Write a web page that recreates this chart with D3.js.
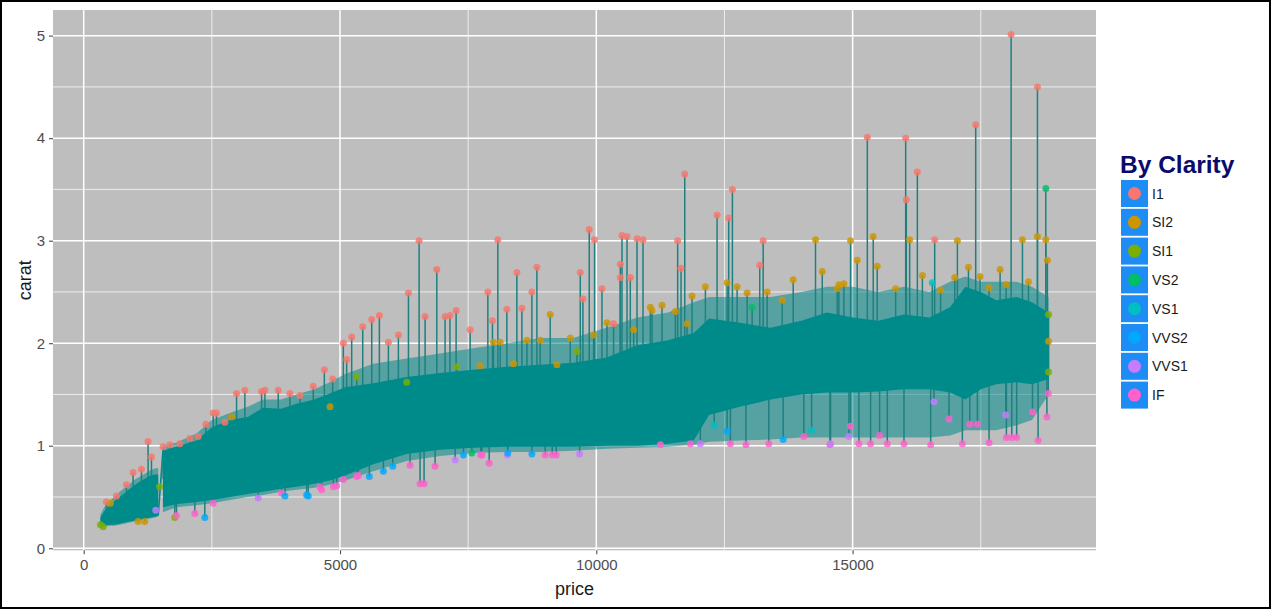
<!DOCTYPE html>
<html><head><meta charset="utf-8">
<script src="https://cdn.jsdelivr.net/npm/d3@7"></script>
<style>
html,body{margin:0;padding:0;background:#fff;}
svg{display:block;font-family:"Liberation Sans",Arial,sans-serif;}
</style></head>
<body>
<svg id="chart" width="1271" height="609"></svg>
<script>
// ---------- data ----------
const clarityLevels = ["I1","SI2","SI1","VS2","VS1","VVS2","VVS1","IF"];
const clarityColors = ["#F8766D","#CD9600","#7CAE00","#00BE67","#00BFC4","#00A9FF","#C77CFF","#FF61CC"];

const xTicks = [0, 5000, 10000, 15000];
const yTicks = [0, 1, 2, 3, 4, 5];

// dense core of the price-ordered line (cluster below the 1454-1546 price gap)
const band1Price = [326, 400, 500, 600, 700, 800, 900, 1000, 1100, 1200, 1300, 1400, 1454];
const band1Hi    = [0.30,0.36,0.42,0.46,0.50,0.54,0.58,0.62,0.65,0.68,0.71,0.72,0.72];
const band1Lo    = [0.21,0.22,0.23,0.23,0.24,0.25,0.26,0.27,0.28,0.29,0.30,0.31,0.32];
const band1SparseHi = [0.33,0.40,0.46,0.50,0.55,0.59,0.63,0.67,0.70,0.73,0.76,0.78,0.78];
const band1SparseLo = [0.20,0.21,0.22,0.22,0.23,0.24,0.25,0.26,0.27,0.28,0.29,0.30,0.31];

// cluster above the price gap
const band2Price = [1546,1800,2200,2500,2850,3200,3500,3850,4150,4500,4800,5100,5650,6300,6950,7600,8250,8900,9550,10200,10800,11400,11900,12200,12800,13400,14000,14500,15000,15500,16000,16500,16900,17200,17500,17800,18200,18500,18823];
const band2Hi    = [0.95,0.99,1.05,1.18,1.25,1.28,1.37,1.36,1.41,1.45,1.51,1.57,1.61,1.67,1.71,1.74,1.77,1.79,1.81,1.86,1.98,2.03,2.10,2.24,2.20,2.15,2.22,2.30,2.25,2.22,2.28,2.25,2.35,2.55,2.50,2.42,2.45,2.40,2.30];
const band2Lo    = [0.40,0.43,0.45,0.47,0.50,0.53,0.55,0.58,0.60,0.63,0.66,0.71,0.82,0.92,0.96,0.98,0.99,0.99,0.99,1.00,1.00,1.02,1.05,1.30,1.38,1.45,1.50,1.52,1.52,1.53,1.55,1.55,1.52,1.45,1.55,1.60,1.62,1.60,1.65];
const band2SparseHi = [1.00,1.03,1.12,1.25,1.32,1.38,1.45,1.45,1.50,1.55,1.62,1.70,1.80,1.85,1.90,1.95,2.00,2.05,2.05,2.15,2.25,2.30,2.40,2.45,2.45,2.45,2.50,2.55,2.55,2.50,2.55,2.50,2.60,2.65,2.60,2.60,2.60,2.55,2.45];
const band2SparseLo = [0.35,0.40,0.42,0.44,0.47,0.50,0.52,0.55,0.57,0.59,0.62,0.66,0.75,0.85,0.90,0.93,0.94,0.94,0.95,0.97,0.98,0.99,1.01,1.04,1.05,1.06,1.08,1.08,1.08,1.08,1.08,1.08,1.10,1.15,1.15,1.15,1.20,1.25,1.50];

// individual diamonds sticking out of the band, per clarity
const i1Price = [443,638,834,963,1127,1256,1322,1549,1680,1875,2070,2232,2383,2525,2590,2754,2982,3144,3470,3535,3795,4023,4219,4479,4694,4857,5065,5130,5228,5443,5619,5768,5944,6139,6335,6543,6660,6888,7050,7145,7265,7539,7884,7974,8079,8255,8450,8548,8743,8841,9687,9739,9862,9966,10110,10337,10468,10468,10501,10599,10663,10794,10911,11587,11653,11725,12356,12583,12655,13188,13255,15287,16035,16048,16263,16601,17401,18092,18606];
const i1Carat = [0.45,0.51,0.62,0.74,0.77,1.04,0.89,0.99,1.01,1.02,1.07,1.09,1.21,1.32,1.32,1.23,1.51,1.54,1.53,1.54,1.54,1.51,1.49,1.58,1.74,1.65,2.00,1.84,2.06,2.16,2.23,2.27,2.01,2.08,2.49,3.00,2.26,2.72,2.26,2.27,2.32,2.13,2.50,2.22,3.01,2.33,2.69,2.34,2.50,2.74,2.69,2.43,3.11,3.01,2.53,2.19,2.77,2.64,3.05,3.04,2.64,3.02,3.01,3.00,2.73,3.65,3.25,3.22,3.50,2.76,3.00,4.01,4.00,3.40,3.67,3.01,4.13,5.01,4.50];

const si2Price = [520,1060,1191,2884,4805,7734,7994,8125,8385,8646,8905,9101,9232,9492,9947,10208,10729,11054,11087,11282,11542,11770,11868,12128,12552,12747,12942,13333,13626,13841,14276,14408,14700,14732,14830,14960,15090,15402,15480,15840,16113,16361,16717,16992,17044,17260,17486,17662,17877,17994,18313,18431,18606,18769,18800,18823];
const si2Carat = [0.44,0.26,0.26,1.28,1.38,1.78,2.01,2.01,1.80,2.03,2.03,2.28,1.79,2.05,2.08,2.20,2.13,2.35,2.32,2.37,2.31,2.19,2.46,2.55,2.59,2.55,2.49,2.50,2.42,2.62,3.01,2.70,2.53,2.57,2.58,3.00,2.81,3.04,2.75,2.53,3.01,2.66,2.52,2.64,3.00,2.74,2.65,2.54,2.72,2.57,3.01,2.60,3.04,3.01,2.81,2.02];

const si1Price = [326,380,1480,1777,5326,6302,7279,9622,18823,18823];
const si1Carat = [0.23,0.21,0.60,0.30,1.67,1.62,1.77,1.92,2.28,1.72];

const vs2Price = [7572,13040,18769];
const vs2Carat = [0.93,2.35,3.51];

const vs1Price = [16555,12300,14200];
const vs1Carat = [2.59,1.20,1.15];

const vvs2Price = [2363,3926,4349,4381,5572,5846,6029,7408,8274,8743,12552,13645];
const vvs2Carat = [0.30,0.51,0.52,0.51,0.70,0.75,0.80,0.91,0.93,0.92,1.14,1.06];

const vvs1Price = [1406,3404,7246,8268,9674,12030,14570,14928,16588,17988];
const vvs1Carat = [0.37,0.49,0.86,0.91,0.92,1.02,1.02,1.09,1.43,1.30];

const ifPrice = [1810,2168,2525,3860,4609,4642,4870,4935,5065,5326,5357,6367,6562,6640,6855,7747,7767,7910,9003,9140,9218,11250,11835,12616,12919,13365,14049,14557,14960,15123,15351,15527,15677,16002,16523,16880,17141,17285,17434,17662,18000,18105,18200,18509,18618,18790,18818];
const ifCarat = [0.32,0.34,0.44,0.54,0.60,0.57,0.60,0.61,0.67,0.70,0.71,0.81,0.63,0.63,0.80,0.91,0.91,0.83,0.91,0.91,0.91,1.01,1.02,1.02,1.01,1.02,1.09,1.01,1.19,1.02,1.02,1.10,1.02,1.02,1.01,1.26,1.02,1.21,1.21,1.03,1.08,1.08,1.08,1.33,1.05,1.28,1.51];

// ---------- build ----------
const pointGroups = [
  ["I1", i1Price, i1Carat], ["SI2", si2Price, si2Carat], ["SI1", si1Price, si1Carat],
  ["VS2", vs2Price, vs2Carat], ["VS1", vs1Price, vs1Carat], ["VVS2", vvs2Price, vvs2Carat],
  ["VVS1", vvs1Price, vvs1Carat], ["IF", ifPrice, ifCarat]
];
const points = [];
pointGroups.forEach(([cl, ps, cs]) => ps.forEach((p, i) => points.push({price: p, carat: cs[i], clarity: cl})));
points.sort((a, b) => a.price - b.price);

const mkBand = (P, H, L, SH, SL) => P.map((p, i) => ({price: p, hi: H[i], lo: L[i], shi: SH[i], slo: SL[i]}));
const band1 = mkBand(band1Price, band1Hi, band1Lo, band1SparseHi, band1SparseLo);
const band2 = mkBand(band2Price, band2Hi, band2Lo, band2SparseHi, band2SparseLo);
const allBand = band1.concat(band2);

const svg = d3.select("#chart");
const W = 1271, H = 609;
const panel = {l: 53, r: 1096, t: 10, b: 550.3};

const x = d3.scaleLinear().domain([-599, 19748]).range([panel.l, panel.r]);
const y = d3.scaleLinear().domain([-0.02, 5.25]).range([panel.b, panel.t]);
const color = d3.scaleOrdinal().domain(clarityLevels).range(clarityColors);
const bandMid = d3.scaleLinear().domain(allBand.map(d => d.price)).range(allBand.map(d => (d.hi + d.lo) / 2)).clamp(true);

svg.append("rect").attr("width", W).attr("height", H).attr("fill", "#fff");

// panel
svg.append("rect").attr("x", panel.l).attr("y", panel.t)
  .attr("width", panel.r - panel.l).attr("height", panel.b - panel.t).attr("fill", "#BEBEBE");

const grid = svg.append("g");
const xMinor = [2500, 7500, 12500, 17500];
const yMinor = [0.5, 1.5, 2.5, 3.5, 4.5];
grid.selectAll(".xm").data(xMinor).join("line")
  .attr("x1", d => x(d)).attr("x2", d => x(d)).attr("y1", panel.t).attr("y2", panel.b)
  .attr("stroke", "#f2f2f2").attr("stroke-width", 0.9);
grid.selectAll(".ym").data(yMinor).join("line")
  .attr("y1", d => y(d)).attr("y2", d => y(d)).attr("x1", panel.l).attr("x2", panel.r)
  .attr("stroke", "#f2f2f2").attr("stroke-width", 0.9);
grid.selectAll(".xM").data(xTicks).join("line")
  .attr("x1", d => x(d)).attr("x2", d => x(d)).attr("y1", panel.t).attr("y2", panel.b)
  .attr("stroke", "#fff").attr("stroke-width", 1.5);
grid.selectAll(".yM").data(yTicks).join("line")
  .attr("y1", d => y(d)).attr("y2", d => y(d)).attr("x1", panel.l).attr("x2", panel.r)
  .attr("stroke", "#fff").attr("stroke-width", 1.5);

const plot = svg.append("g");
const LINE = "#008B8B";

// sparse haze of the line
const hazeArea = d3.area().x(d => x(d.price)).y0(d => y(d.slo)).y1(d => y(d.shi));
[band1, band2].forEach(b => plot.append("path").datum(b).attr("d", hazeArea)
  .attr("fill", LINE).attr("fill-opacity", 0.55));

// spikes: line from each outlying diamond back into the band
const seg = d3.line().x(d => x(d.price)).y(d => y(d.carat));
plot.selectAll(".spike").data(points).join("path")
  .attr("d", d => seg([{price: d.price, carat: d.carat}, {price: d.price, carat: bandMid(d.price)}]))
  .attr("stroke", "#1f8080").attr("stroke-width", 1.5).attr("fill", "none");

// dense core
const coreArea = d3.area().x(d => x(d.price)).y0(d => y(d.lo)).y1(d => y(d.hi));
[band1, band2].forEach(b => plot.append("path").datum(b).attr("d", coreArea).attr("fill", LINE));
// connection across the price gap
plot.append("path")
  .attr("d", seg([{price: band1Price[band1Price.length - 1], carat: band1Lo[band1Lo.length - 1]},
                  {price: band2Price[0], carat: band2Hi[0]}]))
  .attr("stroke", LINE).attr("stroke-width", 1.6).attr("fill", "none");

// points
plot.selectAll(".pt").data(points).join("circle")
  .attr("cx", d => x(d.price)).attr("cy", d => y(d.carat)).attr("r", 3.5)
  .attr("fill", d => color(d.clarity)).attr("fill-opacity", 0.82);

// axes
const axisColor = "#4D4D4D";
const xAxis = svg.append("g").attr("transform", `translate(0,${panel.b})`)
  .call(d3.axisBottom(x).tickValues(xTicks).tickSize(4).tickPadding(5).tickFormat(d3.format("d")));
const yAxis = svg.append("g").attr("transform", `translate(${panel.l},0)`)
  .call(d3.axisLeft(y).tickValues(yTicks).tickSize(4).tickPadding(4).tickFormat(d3.format("d")));
[xAxis, yAxis].forEach(a => {
  a.select(".domain").remove();
  a.selectAll("line").attr("stroke", axisColor).attr("stroke-width", 1.1);
  a.selectAll("text").attr("fill", axisColor).style("font-size", "15px")
    .style("font-family", "'Liberation Sans', Arial, sans-serif");
});

svg.append("text").attr("x", (panel.l + panel.r) / 2).attr("y", 595)
  .attr("text-anchor", "middle").style("font-size", "18px").attr("fill", "#1a1a1a").text("price");
svg.append("text").attr("transform", `translate(31,${(panel.t + panel.b) / 2}) rotate(-90)`)
  .attr("text-anchor", "middle").style("font-size", "18px").attr("fill", "#1a1a1a").text("carat");

// legend
const lg = svg.append("g");
lg.append("text").attr("x", 1120).attr("y", 173).style("font-size", "24.5px").style("font-weight", "bold")
  .attr("fill", "#0A0A6E").text("By Clarity");
const keys = lg.selectAll(".key").data(clarityLevels).join("g")
  .attr("transform", (d, i) => `translate(1121,${180 + i * 28.8})`);
keys.append("rect").attr("width", 27).attr("height", 27).attr("fill", "#1E8CF5");
keys.append("circle").attr("cx", 13.5).attr("cy", 13.5).attr("r", 6.5).attr("fill", d => color(d));
keys.append("text").attr("x", 31).attr("y", 18.5).style("font-size", "14px").attr("fill", "#1a1a1a").text(d => d);

// outer frame
svg.append("rect").attr("x", 1).attr("y", 1).attr("width", W - 2).attr("height", H - 2)
  .attr("fill", "none").attr("stroke", "#000").attr("stroke-width", 2);
</script>
</body></html>
